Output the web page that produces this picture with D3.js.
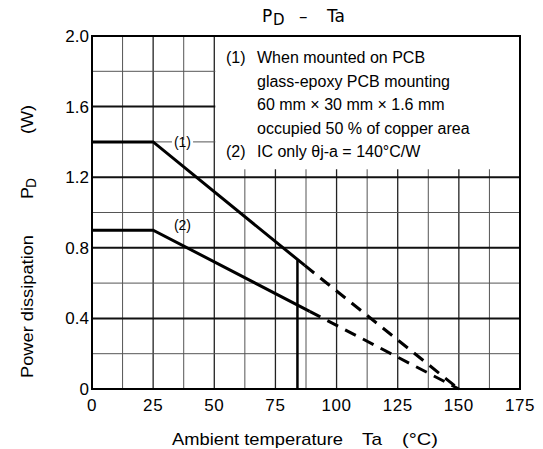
<!DOCTYPE html>
<html><head><meta charset="utf-8">
<script src="https://cdn.jsdelivr.net/npm/d3@7"></script>
<style>body{margin:0;background:#fff}svg{display:block}</style>
</head><body>
<svg id="c" width="543" height="449"></svg>
<script>
// ---- data ----
const xTicks = [0, 25, 50, 75, 100, 125, 150, 175];
const yTicks = [0, 0.4, 0.8, 1.2, 1.6, 2.0];
const yTickLabels = ["0", "0.4", "0.8", "1.2", "1.6", "2.0"];
// curve (1): mounted on PCB
const s1Temp = [0, 25, 87, 150];
const s1Power = [1.4, 1.4, 0.70, 0];
// curve (2): IC only
const s2Temp = [0, 25, 89, 150];
const s2Power = [0.9, 0.9, 0.44, 0];
// vertical marker
const markerTemp = [84, 84];
const markerPower = [0, 0.73];
const legendLines = [
  ["(1)", "When mounted on PCB"],
  ["", "glass-epoxy PCB mounting"],
  ["", "60 mm \u00d7 30 mm \u00d7 1.6 mm"],
  ["", "occupied 50 % of copper area"],
  ["(2)", "IC only \u03b8j-a = 140\u00b0C/W"]
];

const svg = d3.select("#c");
const x = d3.scaleLinear().domain([0, 175]).range([92, 520]);
const y = d3.scaleLinear().domain([0, 2.0]).range([389, 36]);
const font = "'Liberation Sans', Arial, sans-serif";

// grid
const g = svg.append("g");
d3.range(0, 175.01, 12.5).forEach(v => {
  const major = v % 25 === 0;
  g.append("line").attr("x1", x(v)).attr("x2", x(v)).attr("y1", y(0)).attr("y2", y(2))
    .attr("stroke", major ? "#222" : "#555").attr("stroke-width", major ? 1.3 : 1);
});
d3.range(0, 2.001, 0.2).forEach(v => {
  const major = Math.abs(Math.round(v * 10) % 4) === 0;
  g.append("line").attr("x1", x(0)).attr("x2", x(175)).attr("y1", y(v)).attr("y2", y(v))
    .attr("stroke", major ? "#111" : "#555").attr("stroke-width", major ? 2 : 1);
});

// legend box (white background)
svg.append("rect").attr("x", x(50) + 1).attr("y", y(2.0)).attr("width", x(175) - x(50) - 1)
  .attr("height", y(1.245) - y(2.0)).attr("fill", "#fff");

legendLines.forEach((l, i) => {
  const ty = 63 + i * 23.5;
  if (l[0]) svg.append("text").attr("x", 226).attr("y", ty).attr("font-family", font)
    .attr("font-size", 16).text(l[0]);
  svg.append("text").attr("x", 257).attr("y", ty).attr("font-family", font)
    .attr("font-size", 16).text(l[1]);
});

// frame
svg.append("rect").attr("x", x(0)).attr("y", y(2)).attr("width", x(175) - x(0)).attr("height", y(0) - y(2))
  .attr("fill", "none").attr("stroke", "#000").attr("stroke-width", 2);

// curves
const line = d3.line().x(d => x(d[0])).y(d => y(d[1]));
function drawCurve(T, P) {
  const pts = T.map((t, i) => [t, P[i]]);
  svg.append("path").attr("d", line(pts.slice(0, 3))).attr("fill", "none")
    .attr("stroke", "#000").attr("stroke-width", 3);
  svg.append("path").attr("d", line(pts.slice(2))).attr("fill", "none")
    .attr("stroke", "#000").attr("stroke-width", 3).attr("stroke-dasharray", "12,8");
}
drawCurve(s1Temp, s1Power);
drawCurve(s2Temp, s2Power);
svg.append("path").attr("d", line(markerTemp.map((t, i) => [t, markerPower[i]])))
  .attr("stroke", "#000").attr("stroke-width", 2.5).attr("fill", "none");

// curve labels
[["(1)", 37, 1.4], ["(2)", 37, 0.93]].forEach(([t, tx, py]) => {
  const tt = svg.append("text").attr("x", x(tx)).attr("y", y(py) + 5).attr("text-anchor", "middle")
    .attr("font-family", font).attr("font-size", 14).text(t);
  if (t === "(1)") {
    const bb = tt.node().getBBox();
    svg.insert("rect", "text").attr("x", bb.x - 2).attr("y", y(py) - 2).attr("width", bb.width + 4)
      .attr("height", 4).attr("fill", "#fff");
    tt.raise();
  }
});

// ticks
xTicks.forEach(v => {
  svg.append("text").attr("x", x(v)).attr("y", 411).attr("text-anchor", "middle")
    .attr("font-family", font).attr("font-size", 17).attr("letter-spacing", 0.6).text(v);
});
yTicks.forEach((v, i) => {
  svg.append("text").attr("x", 89).attr("y", y(v) + 6).attr("text-anchor", "end")
    .attr("font-family", font).attr("font-size", 17).text(yTickLabels[i]);
});

// title
const tf = "'DejaVu Sans', sans-serif";
svg.append("text").attr("x", 262).attr("y", 22).attr("font-family", tf).attr("font-size", 17).text("P");
svg.append("text").attr("x", 273).attr("y", 25).attr("font-family", tf).attr("font-size", 15).text("D");
svg.append("text").attr("x", 299).attr("y", 22).attr("font-family", tf).attr("font-size", 17).text("\u2013");
svg.append("text").attr("x", 327).attr("y", 22).attr("font-family", tf).attr("font-size", 17).text("Ta");

// x axis label
[["Ambient temperature", 172, 171], ["Ta", 362, 20], ["(\u00b0C)", 402, 36]].forEach(([t, px, w]) => {
  svg.append("text").attr("x", px).attr("y", 445).attr("font-family", font).attr("font-size", 17)
    .attr("textLength", w).attr("lengthAdjust", "spacingAndGlyphs").text(t);
});
// y axis label (rotated)
[["Power dissipation", 378, 17, 0, 143], ["P", 199, 17, 0, 12], ["D", 188, 14, 3, 10], ["(W)", 134, 17, 0, 29]]
  .forEach(([t, py, fs, dy, w]) => {
    svg.append("text").attr("transform", `translate(${33 + dy},${py}) rotate(-90)`)
      .attr("font-family", font).attr("font-size", fs)
      .attr("textLength", w).attr("lengthAdjust", "spacingAndGlyphs").text(t);
  });
</script>
</body></html>
